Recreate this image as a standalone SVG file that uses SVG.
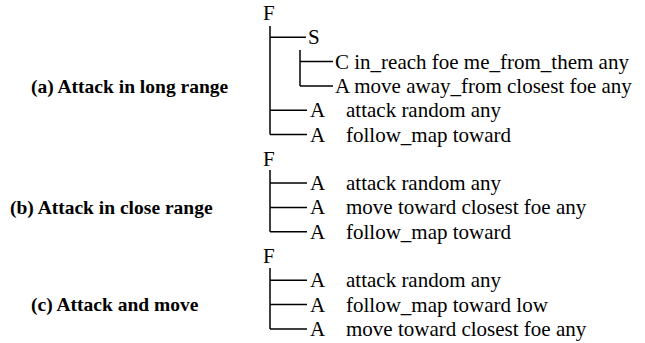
<svg xmlns="http://www.w3.org/2000/svg" width="645" height="343" viewBox="0 0 645 343">
<style>
.t{font-family:"Liberation Serif","Times New Roman",serif;font-size:21px;fill:#000}
.l{font-family:"Liberation Serif","Times New Roman",serif;font-size:19.5px;font-weight:bold;fill:#000}
.c line{stroke:#000;stroke-width:1.5}
</style>
<rect width="645" height="343" fill="#fff"/>
<g id="labels">
<text class="l" x="31" y="93">(a) Attack in long range</text>
<text class="l" x="10" y="214">(b) Attack in close range</text>
<text class="l" x="31" y="311">(c) Attack and move</text>
</g>
<g class="c" id="connectors">
<line x1="270" y1="26" x2="270" y2="134.5"/>
<line x1="270" y1="37.3" x2="306" y2="37.3"/>
<line x1="270" y1="110.2" x2="307" y2="110.2"/>
<line x1="270" y1="134.5" x2="307" y2="134.5"/>
<line x1="300" y1="50" x2="300" y2="85.9"/>
<line x1="300" y1="61.6" x2="333" y2="61.6"/>
<line x1="300" y1="85.9" x2="333" y2="85.9"/>
<line x1="270" y1="170" x2="270" y2="231.7"/>
<line x1="270" y1="183.1" x2="307" y2="183.1"/>
<line x1="270" y1="207.4" x2="307" y2="207.4"/>
<line x1="270" y1="231.7" x2="307" y2="231.7"/>
<line x1="270" y1="268" x2="270" y2="328.9"/>
<line x1="270" y1="280.3" x2="307" y2="280.3"/>
<line x1="270" y1="304.6" x2="307" y2="304.6"/>
<line x1="270" y1="328.9" x2="307" y2="328.9"/>
</g>
<g id="treeA">
<text class="t" x="263" y="20">F</text>
<text class="t" x="308" y="44.3">S</text>
<text class="t" x="335" y="68.6">C in_reach foe me_from_them any</text>
<text class="t" x="335" y="92.9">A move away_from closest foe any</text>
<text class="t" y="117.2"><tspan x="310">A</tspan><tspan x="346">attack random any</tspan></text>
<text class="t" y="141.5"><tspan x="310">A</tspan><tspan x="346">follow_map toward</tspan></text>
</g>
<g id="treeB">
<text class="t" x="263" y="165.8">F</text>
<text class="t" y="190.1"><tspan x="310">A</tspan><tspan x="346">attack random any</tspan></text>
<text class="t" y="214.4"><tspan x="310">A</tspan><tspan x="346">move toward closest foe any</tspan></text>
<text class="t" y="238.7"><tspan x="310">A</tspan><tspan x="346">follow_map toward</tspan></text>
</g>
<g id="treeC">
<text class="t" x="263" y="263">F</text>
<text class="t" y="287.3"><tspan x="310">A</tspan><tspan x="346">attack random any</tspan></text>
<text class="t" y="311.6"><tspan x="310">A</tspan><tspan x="346">follow_map toward low</tspan></text>
<text class="t" y="335.9"><tspan x="310">A</tspan><tspan x="346">move toward closest foe any</tspan></text>
</g>
</svg>
